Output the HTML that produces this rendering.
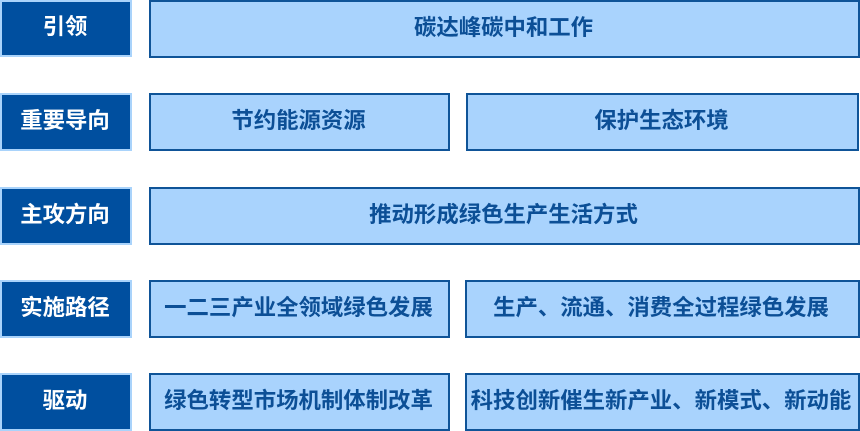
<!DOCTYPE html>
<html lang="zh"><head><meta charset="utf-8">
<style>
html,body{margin:0;padding:0;background:#fff;width:860px;height:431px;overflow:hidden}
#w{position:absolute;left:0;top:0;width:860px;height:431px;filter:blur(.3px)}
.b{position:absolute;box-sizing:border-box;display:flex;align-items:center;justify-content:center;font-family:"Liberation Sans","Noto Sans CJK SC",sans-serif;font-weight:700;font-size:22.4px;line-height:1;white-space:nowrap;padding:0 2px 2px 0}
.l{left:0;width:132px;height:58px;background:#004f9f;border:2px solid #a9d3fb;color:#fff}
.r{height:58px;background:#a9d3fd;border:2px solid #0f5498;color:#0c4f96}
.w{padding-right:3px}
</style></head><body><div id="w">
<div class="b l" style="top:0;height:57px">引领</div>
<div class="b r" style="left:149px;top:0;width:711px">碳达峰碳中和工作</div>
<div class="b l" style="top:93px">重要导向</div>
<div class="b r" style="left:149px;top:93px;width:301px">节约能源资源</div>
<div class="b r" style="left:466px;top:93px;width:393px">保护生态环境</div>
<div class="b l" style="top:187px">主攻方向</div>
<div class="b r" style="left:149px;top:187px;width:711px">推动形成绿色生产生活方式</div>
<div class="b l" style="top:280px">实施路径</div>
<div class="b r" style="left:149px;top:280px;width:301px">一二三产业全领域绿色发展</div>
<div class="b r w" style="left:465px;top:280px;width:395px">生产、流通、消费全过程绿色发展</div>
<div class="b l" style="top:373px">驱动</div>
<div class="b r" style="left:149px;top:373px;width:301px">绿色转型市场机制体制改革</div>
<div class="b r w" style="left:465px;top:373px;width:395px">科技创新催生新产业、新模式、新动能</div>
</div></body></html>
